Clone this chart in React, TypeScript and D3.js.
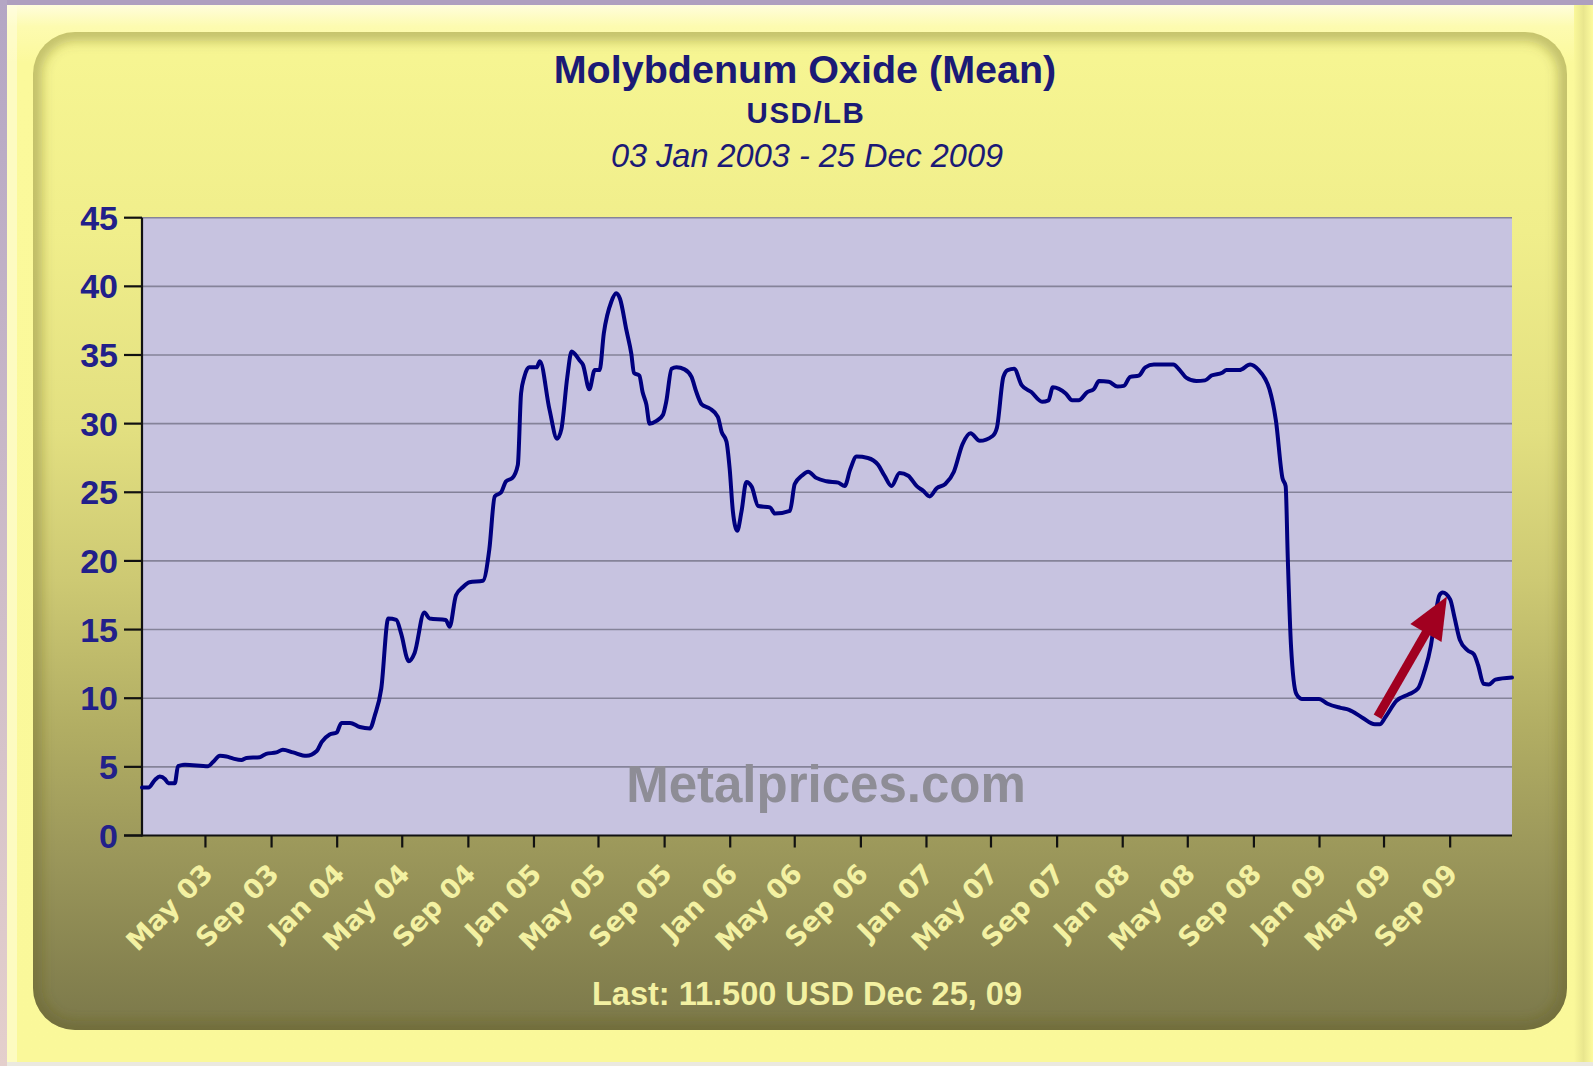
import React from "react";
import * as d3 from "d3";

// ---------- DATA ----------
const priceDates: string[] = [
  "2003-01-03","2003-01-15","2003-01-27","2003-02-05","2003-02-15","2003-02-21","2003-03-05","2003-03-11","2003-03-24",
  "2003-05-06","2003-05-15","2003-05-28","2003-06-09","2003-06-22","2003-07-07","2003-07-16","2003-08-10","2003-08-22",
  "2003-09-10","2003-09-22","2003-10-11","2003-11-05","2003-11-24","2003-12-03","2003-12-18","2003-12-31",
  "2004-01-09","2004-01-25","2004-02-12","2004-03-02","2004-03-11","2004-03-23","2004-04-05","2004-04-20","2004-04-29",
  "2004-05-13","2004-05-24","2004-06-11","2004-06-21","2004-07-21","2004-07-28","2004-08-09","2004-08-22","2004-09-03",
  "2004-09-28","2004-10-10","2004-10-20","2004-11-01","2004-11-10","2004-11-22","2004-12-02","2004-12-08","2004-12-14","2004-12-23",
  "2005-01-06","2005-01-12","2005-01-30","2005-02-13","2005-02-21","2005-03-04","2005-03-12","2005-03-27","2005-04-02",
  "2005-04-14","2005-04-24","2005-05-03","2005-05-11","2005-05-25","2005-06-03","2005-06-10","2005-06-22","2005-07-01",
  "2005-07-06","2005-07-16","2005-07-22","2005-07-29","2005-08-04","2005-08-17","2005-08-29","2005-09-04","2005-09-14",
  "2005-09-23","2005-10-08","2005-10-21","2005-10-30","2005-11-09","2005-11-24","2005-12-09","2005-12-16","2005-12-25","2005-12-31",
  "2006-01-06","2006-01-14","2006-01-22","2006-01-31","2006-02-10","2006-02-22","2006-03-16","2006-03-25","2006-04-22",
  "2006-05-01","2006-05-14","2006-05-26","2006-06-10","2006-06-29","2006-07-21","2006-08-02","2006-08-12","2006-08-24",
  "2006-09-14","2006-10-03","2006-10-15","2006-10-28","2006-11-12","2006-11-28","2006-12-14","2006-12-26",
  "2007-01-07","2007-01-20","2007-02-05","2007-02-21","2007-03-09","2007-03-24","2007-04-10","2007-05-04","2007-05-12",
  "2007-05-24","2007-06-01","2007-06-13","2007-06-27","2007-07-15","2007-08-04","2007-08-16","2007-08-24","2007-09-17",
  "2007-09-29","2007-10-11","2007-10-27","2007-11-08","2007-11-18","2007-12-06","2007-12-22",
  "2008-01-03","2008-01-15","2008-01-31","2008-02-12","2008-02-28","2008-04-04","2008-04-16","2008-04-28","2008-05-17",
  "2008-06-02","2008-06-14","2008-07-04","2008-07-12","2008-08-05","2008-08-25","2008-09-10","2008-09-22","2008-09-30",
  "2008-10-12","2008-10-24","2008-10-30","2008-11-03","2008-11-09","2008-11-19","2008-11-29","2008-12-31",
  "2009-01-16","2009-02-09","2009-02-25","2009-03-21","2009-04-14","2009-04-23","2009-05-04","2009-05-24","2009-06-17",
  "2009-07-03","2009-07-15","2009-07-27","2009-08-04","2009-08-12","2009-08-18","2009-09-01","2009-09-09","2009-09-19",
  "2009-10-03","2009-10-15","2009-10-23","2009-11-02","2009-11-12","2009-11-24","2009-12-25",
];
const priceValues: number[] = [
  3.5,3.5,4.05,4.3,4.1,3.8,3.8,5.05,5.15,
  5.05,5.35,5.8,5.75,5.6,5.5,5.65,5.7,5.95,
  6.05,6.25,6.05,5.8,6.15,6.8,7.35,7.5,
  8.2,8.2,7.9,7.8,8.75,10.7,15.8,15.7,14.7,
  12.7,13.3,16.25,15.8,15.7,15.2,17.5,18.1,18.45,
  18.55,20.85,24.7,25.0,25.8,26.05,27.0,32.2,33.4,34.1,
  34.1,34.55,31.0,28.9,29.6,33.4,35.25,34.6,34.3,
  32.5,33.9,33.9,36.6,38.9,39.5,39.1,36.8,35.1,
  33.7,33.5,32.3,31.4,30.0,30.2,30.65,31.6,34.0,
  34.1,33.95,33.4,32.3,31.4,31.1,30.5,29.4,28.7,26.7,
  23.6,22.2,23.6,25.75,25.4,24.0,23.9,23.45,23.65,
  25.6,26.2,26.5,26.05,25.8,25.7,25.45,26.65,27.6,
  27.5,27.0,26.2,25.45,26.4,26.2,25.45,25.1,
  24.7,25.3,25.6,26.5,28.5,29.3,28.75,29.1,29.7,
  33.4,33.9,34.0,32.8,32.3,31.6,31.7,32.65,32.2,
  31.7,31.7,32.3,32.5,33.1,33.05,32.7,
  32.75,33.4,33.5,34.1,34.3,34.3,33.9,33.35,33.1,
  33.15,33.5,33.7,33.9,33.9,34.3,33.9,33.25,32.5,
  30.2,26.05,25.45,20.2,13.8,10.3,9.95,9.95,
  9.6,9.3,9.15,8.6,8.1,8.1,8.65,9.8,10.3,
  10.7,11.95,13.8,15.9,17.5,17.7,17.2,15.9,14.25,
  13.5,13.2,12.4,11.05,11.0,11.35,11.5,
];

const xDomain: string[] = ["2003-01-03", "2009-12-25"];
const xTickDates: string[] = [
  "2003-05-01","2003-09-01","2004-01-01","2004-05-01","2004-09-01","2005-01-01","2005-05-01","2005-09-01",
  "2006-01-01","2006-05-01","2006-09-01","2007-01-01","2007-05-01","2007-09-01","2008-01-01","2008-05-01",
  "2008-09-01","2009-01-01","2009-05-01","2009-09-01",
];
const yTicks: number[] = [0, 5, 10, 15, 20, 25, 30, 35, 40, 45];
const arrowFrom = { date: "2009-04-19", value: 8.65 };
const arrowTo = { date: "2009-08-26", value: 17.4 };

const titleText = "Molybdenum Oxide (Mean)";
const unitText = "USD/LB";
const rangeText = "03 Jan 2003 - 25 Dec 2009";
const lastText = "Last: 11.500 USD Dec 25, 09";
const watermark = "Metalprices.com";

// ---------- CHART ----------
const W = 1593;
const H = 1066;
const parse = d3.timeParse("%Y-%m-%d");
const fmt = d3.timeFormat("%b %y");

export default function App() {
  const left = 142, right = 1512, top = 217.7, bottom = 835.5;
  const x = d3.scaleTime().domain(xDomain.map((s) => parse(s) as Date)).range([left, right]);
  const y = d3.scaleLinear().domain([0, 45]).range([bottom, top]);

  const data = priceDates.map((d, i) => ({ date: parse(d) as Date, value: priceValues[i] }));
  const line = d3
    .line<{ date: Date; value: number }>()
    .x((d) => x(d.date))
    .y((d) => y(d.value))
    .curve(d3.curveMonotoneX);

  // arrow geometry from scales
  const ax0 = x(parse(arrowFrom.date) as Date), ay0 = y(arrowFrom.value);
  const ax1 = x(parse(arrowTo.date) as Date), ay1 = y(arrowTo.value);
  const dx = ax1 - ax0, dy = ay1 - ay0;
  const len = Math.hypot(dx, dy);
  const ux = dx / len, uy = dy / len;
  const px = -uy, py = ux;
  const headLen = 42, headHalf = 18;
  const bx = ax1 - ux * headLen, by = ay1 - uy * headLen;
  const headPts = [
    [ax1, ay1],
    [bx + px * headHalf, by + py * headHalf],
    [bx - px * headHalf, by - py * headHalf],
  ];

  const panel = { x: 33, y: 32, w: 1534, h: 998, r: 42 };
  const font = "'Liberation Sans', Arial, sans-serif";
  const tickFont = "'DejaVu Sans', Verdana, sans-serif";

  return (
    <svg
      width={W}
      height={H}
      viewBox={`0 0 ${W} ${H}`}
      style={{ position: "absolute", left: 0, top: 0, display: "block" }}
    >
      <defs>
        <linearGradient id="outerBg" x1="0" y1="0" x2="0" y2="1">
          <stop offset="0" stopColor="#fffee6" />
          <stop offset="0.025" stopColor="#fdfbb0" />
          <stop offset="0.06" stopColor="#fbf99b" />
          <stop offset="1" stopColor="#faf89a" />
        </linearGradient>
        <linearGradient id="leftStrip" x1="0" y1="0" x2="0" y2="1">
          <stop offset="0" stopColor="#b4a6c4" />
          <stop offset="1" stopColor="#e4cfcc" />
        </linearGradient>
        <linearGradient id="panelFill" x1="0" y1="0" x2="0" y2="1">
          <stop offset="0" stopColor="#f7f693" />
          <stop offset="0.2" stopColor="#f0ee8b" />
          <stop offset="0.4" stopColor="#e2df80" />
          <stop offset="0.55" stopColor="#cdc973" />
          <stop offset="0.7" stopColor="#b1ad63" />
          <stop offset="0.83" stopColor="#9a965a" />
          <stop offset="1" stopColor="#7b784a" />
        </linearGradient>
        <linearGradient id="rightEdge" x1="0" y1="0" x2="1" y2="0">
          <stop offset="0" stopColor="#faf89a" />
          <stop offset="0.5" stopColor="#e9e68e" />
          <stop offset="1" stopColor="#fdfb9e" />
        </linearGradient>
        <filter id="blur6" x="-5%" y="-5%" width="110%" height="110%">
          <feGaussianBlur stdDeviation="6" />
        </filter>
        <clipPath id="panelClip">
          <rect x={panel.x} y={panel.y} width={panel.w} height={panel.h} rx={panel.r} ry={panel.r} />
        </clipPath>
      </defs>

      {/* outer frame */}
      <rect x={0} y={0} width={W} height={H} fill="#ebe9df" />
      <rect x={0} y={0} width={W} height={1062} fill="url(#outerBg)" />
      <rect x={1574} y={5} width={19} height={1057} fill="url(#rightEdge)" />
      <rect x={0} y={0} width={W} height={5} fill="#ae9fbf" />
      <rect x={0} y={0} width={7} height={H} fill="url(#leftStrip)" />
      <rect x={7} y={5} width={10} height={1057} fill="#fffde0" opacity={0.55} />

      {/* panel */}
      <rect
        x={panel.x}
        y={panel.y}
        width={panel.w}
        height={panel.h}
        rx={panel.r}
        ry={panel.r}
        fill="url(#panelFill)"
      />
      <g clipPath="url(#panelClip)">
        <rect
          x={panel.x}
          y={panel.y}
          width={panel.w}
          height={panel.h}
          rx={panel.r}
          ry={panel.r}
          fill="none"
          stroke="#5e5a22"
          strokeOpacity={0.35}
          strokeWidth={18}
          filter="url(#blur6)"
        />
      </g>

      {/* titles */}
      <text x={805} y={83} textAnchor="middle" fontFamily={font} fontWeight="bold" fontSize={39.5} fill="#1b1a76">
        {titleText}
      </text>
      <text x={806} y={123} textAnchor="middle" fontFamily={font} fontWeight="bold" fontSize={29.5} letterSpacing={1.5} fill="#1b1a76">
        {unitText}
      </text>
      <text x={807} y={167} textAnchor="middle" fontFamily={font} fontStyle="italic" fontSize={32.5} fill="#1b1a76">
        {rangeText}
      </text>

      {/* plot background */}
      <rect x={left} y={top} width={right - left} height={bottom - top} fill="#c7c3e0" />

      {/* gridlines */}
      {yTicks
        .filter((t) => t > 0)
        .map((t) => (
          <line key={"g" + t} x1={left} x2={right} y1={y(t)} y2={y(t)} stroke="#858399" strokeWidth={1.6} />
        ))}

      {/* watermark */}
      <text x={826} y={802} textAnchor="middle" fontFamily={font} fontWeight="bold" fontSize={51} fill="#8e8d96">
        {watermark}
      </text>

      {/* axes */}
      <line x1={left} x2={left} y1={top} y2={bottom + 1} stroke="#111" strokeWidth={2.2} />
      <line x1={124} x2={right} y1={bottom} y2={bottom} stroke="#111" strokeWidth={2.2} />
      {yTicks.map((t) => (
        <g key={"y" + t}>
          <line x1={124} x2={left} y1={y(t)} y2={y(t)} stroke="#111" strokeWidth={2.2} />
          <text
            x={118}
            y={y(t) + 12}
            textAnchor="end"
            fontFamily={font}
            fontWeight="bold"
            fontSize={34}
            fill="#22208a"
          >
            {t}
          </text>
        </g>
      ))}
      {xTickDates.map((s) => {
        const d = parse(s) as Date;
        const tx = x(d);
        return (
          <g key={s}>
            <line x1={tx} x2={tx} y1={bottom} y2={bottom + 12} stroke="#111" strokeWidth={2.2} />
            <text
              transform={`translate(${tx + 9},${bottom + 40}) rotate(-45)`}
              textAnchor="end"
              fontFamily={tickFont}
              fontWeight="bold"
              fontSize={27}
              fill="#f3f1a2"
            >
              {fmt(d)}
            </text>
          </g>
        );
      })}

      {/* price line */}
      <path d={line(data) || ""} fill="none" stroke="#00007f" strokeWidth={4} strokeLinejoin="round" strokeLinecap="round" />

      {/* red arrow */}
      <line x1={ax0} y1={ay0} x2={bx + ux * 4} y2={by + uy * 4} stroke="#a10020" strokeWidth={9} />
      <polygon points={headPts.map((p) => p.join(",")).join(" ")} fill="#a10020" />

      {/* last value */}
      <text x={807} y={1005} textAnchor="middle" fontFamily={font} fontWeight="bold" fontSize={32.5} fill="#f3f1a2">
        {lastText}
      </text>
    </svg>
  );
}
